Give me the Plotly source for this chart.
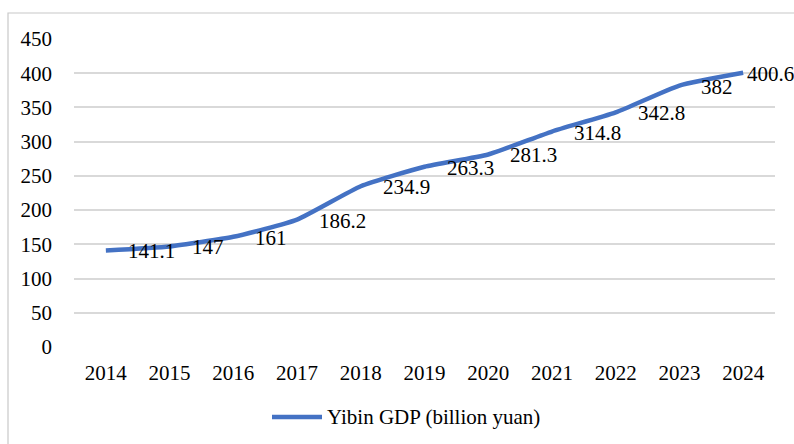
import plotly.graph_objects as go

years = ["2014", "2015", "2016", "2017", "2018", "2019", "2020", "2021", "2022", "2023", "2024"]
gdp = [141.1, 147, 161, 186.2, 234.9, 263.3, 281.3, 314.8, 342.8, 382, 400.6]
labels = ["141.1", "147", "161", "186.2", "234.9", "263.3", "281.3", "314.8", "342.8", "382", "400.6"]
series_name = "Yibin GDP (billion yuan)"
y_ticks = [0, 50, 100, 150, 200, 250, 300, 350, 400, 450]

W, H = 794, 444
L, R, T, B = 74, 19, 39, 97
pw, ph = W - L - R, H - T - B

def px_x(p):
    return (p - L) / pw

def px_y(p):
    return (H - B - p) / ph

FONT = "Liberation Serif, Times New Roman, serif"
BLUE = "#4472C4"
FS = 21

fig = go.Figure()
fig.add_trace(go.Scatter(
    x=list(range(len(years))), y=gdp, mode="lines",
    line=dict(color=BLUE, width=4.5, shape="spline", smoothing=0.5),
    name=series_name, showlegend=False, hoverinfo="x+y",
))

annotations = []
n = len(years)
for i, (v, t) in enumerate(zip(gdp, labels)):
    annotations.append(dict(
        x=i, y=v, xref="x", yref="y", text=t, showarrow=False,
        xanchor="left", yanchor="middle",
        xshift=(2 if i == n - 1 else 20), yshift=-1,
        font=dict(family=FONT, size=FS, color="#000000"),
    ))

# manual legend
annotations.append(dict(
    x=px_x(325), y=px_y(417), xref="paper", yref="paper",
    text=series_name, showarrow=False, xanchor="left", yanchor="middle",
    font=dict(family=FONT, size=FS, color="#000000"),
))

shapes = [
    dict(type="line", xref="paper", yref="paper",
         x0=px_x(272), x1=px_x(322), y0=px_y(417), y1=px_y(417),
         line=dict(color=BLUE, width=4.5)),
    dict(type="rect", xref="paper", yref="paper",
         x0=px_x(8), x1=px_x(820), y0=px_y(470), y1=px_y(13),
         line=dict(color="#c8c8c8", width=1.2), fillcolor="rgba(0,0,0,0)", layer="below"),
]

fig.update_layout(
    width=W, height=H,
    margin=dict(l=L, r=R, t=T, b=B),
    paper_bgcolor="white", plot_bgcolor="white",
    font=dict(family=FONT, size=FS, color="#000000"),
    annotations=annotations, shapes=shapes,
    xaxis=dict(
        range=[-0.5, n - 0.5], tickmode="array",
        tickvals=list(range(n)), ticktext=years,
        showgrid=False, zeroline=False, showline=False, ticks="",
        ticklabelstandoff=11,
        tickfont=dict(family=FONT, size=FS, color="#000000"),
    ),
    yaxis=dict(
        range=[0, 450], tickmode="array", tickvals=y_ticks,
        showgrid=True, gridcolor="#d9d9d9", gridwidth=1.5,
        zeroline=False, showline=False, ticks="",
        ticklabelstandoff=21,
        tickfont=dict(family=FONT, size=FS, color="#000000"),
    ),
)

fig.write_html(
    "out.html",
    config={"displayModeBar": False},
    post_script="document.body.style.margin='0';document.body.style.overflow='hidden';",
)
